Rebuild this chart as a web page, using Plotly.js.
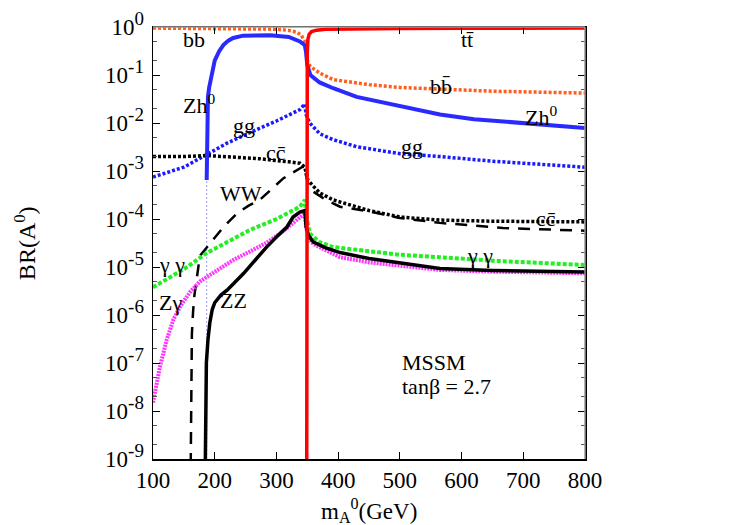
<!DOCTYPE html>
<html>
<head>
<meta charset="utf-8">
<script src="https://cdn.plot.ly/plotly-3.0.1.min.js"></script>
<style>
  body { margin: 0; background: #fff; }
  #chart { width: 750px; height: 525px; }
</style>
</head>
<body>
<div id="chart"></div>
<script>
// branching ratios of A0 vs m_A (GeV)
var bbX = [100, 200, 300, 320, 333, 340, 346, 348, 350, 355, 370, 392, 450, 500, 565, 650, 800];
var bbY = [0.95, 0.93, 0.9, 0.85, 0.78, 0.68, 0.5, 0.3, 0.2, 0.15, 0.11, 0.08, 0.063, 0.055, 0.05, 0.046, 0.042];

var zhX = [187, 187.6, 189, 191, 193.5, 196, 200, 207, 214, 222, 230, 246, 270, 290, 320, 338, 346, 348, 350, 355, 370, 392, 430, 500, 565, 620, 695, 800];
var zhY = [6.5e-4, 0.02, 0.035, 0.055, 0.08, 0.12, 0.2, 0.31, 0.42, 0.52, 0.59, 0.66, 0.68, 0.67, 0.62, 0.5, 0.42, 0.3, 0.16, 0.1, 0.07, 0.053, 0.035, 0.022, 0.015, 0.012, 0.01, 0.0079];
var zhTailX = [187, 187];
var zhTailY = [1e-10, 6.5e-4];

var ggX = [100, 150, 187, 220, 257, 300, 338, 346, 348, 354, 370, 392, 430, 500, 565, 650, 800];
var ggY = [7.5e-4, 1.2e-3, 2.2e-3, 3.8e-3, 6.3e-3, 0.011, 0.019, 0.025, 0.015, 0.01, 6e-3, 4.5e-3, 3.2e-3, 2.3e-3, 2.0e-3, 1.6e-3, 1.2e-3];

var ccX = [100, 150, 187, 230, 273, 320, 338, 346, 348, 351, 370, 392, 450, 500, 565, 650, 800];
var ccY = [2e-3, 2e-3, 2.1e-3, 1.95e-3, 1.8e-3, 1.55e-3, 1.45e-3, 1.2e-3, 9e-4, 6.4e-4, 3.5e-4, 2.5e-4, 1.5e-4, 1.1e-4, 9.5e-5, 9e-5, 8.7e-5];

var wwX = [160.5, 161.5, 163, 165, 167, 176, 197, 215, 236, 255, 273, 295, 311, 325, 340, 346, 348, 352, 360, 380, 403, 455, 500, 565, 667, 771, 800];
var wwY = [1e-10, 3e-8, 4e-7, 1.2e-6, 2.5e-6, 1.7e-5, 3.6e-5, 7e-5, 1.3e-4, 1.9e-4, 2.5e-4, 4.5e-4, 7e-4, 9e-4, 1.2e-3, 1.3e-3, 8e-4, 5e-4, 3.7e-4, 2.5e-4, 1.8e-4, 1.4e-4, 1.05e-4, 8.3e-5, 6.5e-5, 5.9e-5, 5.7e-5];

var aaX = [100, 150, 187, 220, 257, 300, 338, 346, 348, 354, 370, 392, 403, 450, 500, 565, 650, 800];
var aaY = [3.8e-6, 9e-6, 1.95e-5, 3.3e-5, 5.9e-5, 1e-4, 1.8e-4, 2.5e-4, 1.2e-4, 5e-5, 3.3e-5, 2.6e-5, 2.5e-5, 2.1e-5, 1.8e-5, 1.6e-5, 1.35e-5, 1.1e-5];

var zaX = [100, 111, 122, 133, 144, 160, 176, 200, 230, 257, 284, 306, 325, 338, 346, 348, 352, 360, 380, 403, 450, 500, 565, 650, 800];
var zaY = [1.5e-8, 8e-8, 3e-7, 8e-7, 1.5e-6, 3e-6, 5e-6, 8e-6, 1.4e-5, 2.1e-5, 3.2e-5, 5e-5, 8e-5, 1.1e-4, 1.3e-4, 7e-5, 4e-5, 3e-5, 2.2e-5, 1.6e-5, 1.25e-5, 1.05e-5, 8.7e-6, 8e-6, 7.4e-6];

var zzX = [184, 185, 186.5, 189, 192, 196, 200, 210, 220, 247, 284, 300, 317, 327, 338, 346, 348, 352, 360, 380, 403, 450, 500, 565, 650, 800];
var zzY = [1e-10, 8e-9, 1e-7, 3e-7, 6.8e-7, 1.3e-6, 1.8e-6, 2.6e-6, 3.3e-6, 7.4e-6, 2.6e-5, 4.2e-5, 6.8e-5, 1.1e-4, 1.4e-4, 1.5e-4, 7e-5, 4.5e-5, 3.3e-5, 2.5e-5, 2e-5, 1.5e-5, 1.2e-5, 9.3e-6, 8.5e-6, 7.9e-6];

var ttX = [349, 349.2, 349.5, 350, 351, 353, 357, 365, 380, 420, 500, 600, 800];
var ttY = [1e-10, 1e-6, 1e-2, 0.3, 0.55, 0.7, 0.8, 0.86, 0.9, 0.92, 0.93, 0.94, 0.95];

// curve labels: text, x (GeV), log10(BR)
var labelText = ["bb", "Zh<sup>0</sup>", "gg", "cc\u0304", "WW", "\u03b3 \u03b3", "Z\u03b3", "ZZ",
  "tt\u0304", "bb\u0304", "Zh<sup>0</sup>", "gg", "cc\u0304", "\u03b3 \u03b3"];
var labelX = [166, 175, 248, 300, 242, 130, 128, 231, 610, 567, 729, 519, 737, 630];
var labelY = [-0.25, -1.6, -2.06, -2.62, -3.46, -4.94, -5.73, -5.7, -0.25, -1.23, -1.85, -2.48, -3.98, -4.77];

var yTickVals = [1e-9, 1e-8, 1e-7, 1e-6, 1e-5, 1e-4, 1e-3, 1e-2, 1e-1, 1];
var yExp = ["-9", "-8", "-7", "-6", "-5", "-4", "-3", "-2", "-1", "0"];
var yTickText = yExp.map(function (e) {
  return "10<sup><span style='font-size:19px'>" + e + "</span></sup>";
});

var serif = "'Liberation Serif', 'Times New Roman', serif";

function curve(x, y, color, width, dash) {
  return {
    x: x, y: y, type: "scatter", mode: "lines",
    line: { color: color, width: width, dash: dash },
    hoverinfo: "skip",
  };
}

var traces = [
  curve(zhTailX, zhTailY, "rgba(80,80,255,0.55)", 1, "2px,2px"),
  curve(bbX, bbY, "#ff5e1e", 3.5, "3px,2px"),
  curve(ggX, ggY, "#1a1aff", 3.5, "3px,2px"),
  curve(ccX, ccY, "#000000", 3.5, "3px,2px"),
  curve(wwX, wwY, "#000000", 2.5, "12px,9px"),
  curve(aaX, aaY, "#22ee22", 4, "4px,2px"),
  curve(zaX, zaY, "#ff33ff", 4, "2px,1px"),
  curve(zzX, zzY, "#000000", 3.5, "solid"),
  curve(zhX, zhY, "#2a2aff", 4, "solid"),
  curve(ttX, ttY, "#ff0000", 3.5, "solid"),
];

var annotations = labelText.map(function (t, i) {
  return {
    x: labelX[i], y: labelY[i], xref: "x", yref: "y",
    text: t, showarrow: false,
    font: { family: serif, size: 22, color: "#000" },
  };
});
annotations.push(
  { x: 500, y: -6.98, xref: "x", yref: "y", xanchor: "left", text: "MSSM", showarrow: false,
    font: { family: serif, size: 22, color: "#000" } },
  { x: 500, y: -7.48, xref: "x", yref: "y", xanchor: "left", text: "tan\u03b2 = 2.7", showarrow: false,
    font: { family: serif, size: 22, color: "#000" } },
  { x: 0.5, y: -0.12, xref: "paper", yref: "paper", xanchor: "center", yanchor: "middle",
    text: "m<sub>A</sub><sup>0</sup>(GeV)", showarrow: false,
    font: { family: serif, size: 23, color: "#000" } },
  { x: -0.296, y: 0.5, xref: "paper", yref: "paper", xanchor: "center", yanchor: "middle",
    textangle: -90, text: "BR(A<sup>0</sup>)", showarrow: false,
    font: { family: serif, size: 24, color: "#000" } }
);

var layout = {
  width: 750, height: 525,
  margin: { l: 153, r: 165, t: 27, b: 66 },
  paper_bgcolor: "#fff", plot_bgcolor: "#fff",
  showlegend: false,
  font: { family: serif, size: 23, color: "#000" },
  xaxis: {
    range: [100, 800], tickvals: [100, 200, 300, 400, 500, 600, 700, 800],
    showgrid: false, zeroline: false,
    showline: true, linecolor: "#000", linewidth: 1.5, mirror: "ticks",
    ticks: "inside", ticklen: 7, tickcolor: "#000", ticklabelstandoff: 0,
    tickfont: { family: serif, size: 23, color: "#000" },
  },
  yaxis: {
    type: "log", range: [-9, 0],
    tickvals: yTickVals, ticktext: yTickText,
    showgrid: false, zeroline: false,
    showline: true, linecolor: "#000", linewidth: 1.5, mirror: "ticks",
    ticks: "inside", ticklen: 7, tickcolor: "#000", ticklabelstandoff: 3,
    tickfont: { family: serif, size: 23, color: "#000" },
    minor: { ticks: "inside", ticklen: 4, tickcolor: "#555", showgrid: false },
  },
  shapes: [
    { type: "line", xref: "paper", yref: "paper", x0: 0, x1: 1, y0: 1, y1: 1,
      line: { color: "#999", width: 1.5 }, layer: "above" },
    { type: "line", xref: "paper", yref: "paper", x0: 1, x1: 1, y0: 0, y1: 1,
      line: { color: "#999", width: 1.5 }, layer: "above" },
  ],
  annotations: annotations,
};

Plotly.newPlot("chart", traces, layout, { displayModeBar: false, staticPlot: true });
</script>
</body>
</html>
